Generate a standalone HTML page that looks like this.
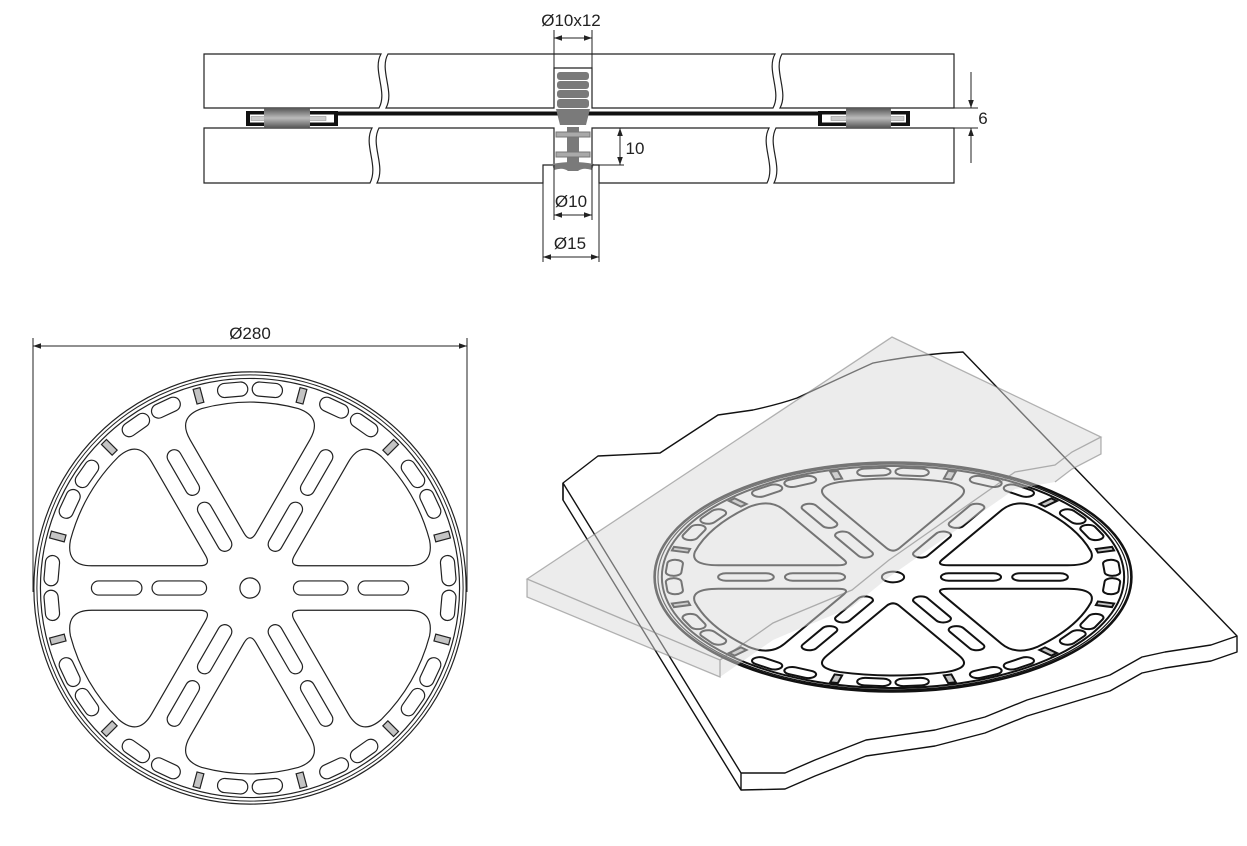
<!DOCTYPE html>
<html><head><meta charset="utf-8">
<style>
html,body{margin:0;padding:0;background:#fff;}
svg{display:block;font-family:"Liberation Sans",sans-serif;}
.wl *{vector-effect:non-scaling-stroke;}
.g{fill:#c4c4c4;}
</style></head>
<body>
<svg id="s" width="1247" height="846" viewBox="0 0 1247 846" xmlns="http://www.w3.org/2000/svg">
<defs>
<marker id="ar" viewBox="0 0 10 10" refX="10" refY="5" markerWidth="8" markerHeight="8" markerUnits="userSpaceOnUse" orient="auto-start-reverse">
<path d="M0,1.5 L10,5 L0,8.5 Z" fill="#222"/></marker>
<linearGradient id="cyl" x1="0" y1="0" x2="0" y2="1">
<stop offset="0" stop-color="#555"/><stop offset="0.5" stop-color="#bbb"/><stop offset="1" stop-color="#555"/></linearGradient>
</defs>

<!-- ===== Cross section ===== -->
<g fill="#fff" stroke="#222" stroke-width="1.2">
<path d="M204,54 L381,54 C372,70 388,92 379,108 L204,108 Z"/>
<path d="M388,54 L775,54 C766,70 782,92 773,108 L592,108 L592,68 L554,68 L554,108 L386,108 C395,92 379,70 388,54 Z"/>
<path d="M782,54 L954,54 L954,108 L780,108 C789,92 773,70 782,54 Z"/>
<path d="M204,128 L372,128 C363,145 379,165 370,183 L204,183 Z"/>
<path d="M379,128 L554,128 L554,165 L543,165 L543,183 L377,183 C386,165 370,145 379,128 Z"/>
<path d="M592,128 L769,128 C760,145 776,165 767,183 L599,183 L599,165 L592,165 Z"/>
<path d="M776,128 L954,128 L954,183 L774,183 C783,165 767,145 776,128 Z"/>
</g>
<!-- mat -->
<rect x="338" y="111.5" width="480" height="4" fill="#111"/>
<rect x="246" y="111" width="92" height="15" fill="#111"/>
<rect x="250" y="114.5" width="84" height="8" fill="#fff"/>
<rect x="818" y="111" width="92" height="15" fill="#111"/>
<rect x="822" y="114.5" width="84" height="8" fill="#fff"/>
<rect x="251" y="116.5" width="75" height="4" fill="#ccc" stroke="#888" stroke-width="0.5"/>
<rect x="831" y="116.5" width="73" height="4" fill="#ccc" stroke="#888" stroke-width="0.5"/>
<rect x="264" y="108" width="46" height="20" fill="url(#cyl)" rx="2"/>
<rect x="846" y="108" width="45" height="20" fill="url(#cyl)" rx="2"/>
<!-- pin -->
<g fill="#7a7a7a">
<rect x="557" y="72" width="32" height="8" rx="3"/>
<rect x="557" y="81" width="32" height="8" rx="3"/>
<rect x="557" y="90" width="32" height="8" rx="3"/>
<rect x="557" y="99" width="32" height="9" rx="3"/>
<path d="M556,109 L590,109 L586,125 L560,125 Z"/>
<rect x="567" y="127" width="12" height="36"/>
<path d="M552,164 Q573,160 594,164 L592,170 Q583,167 578,171 L568,171 Q563,167 554,170 Z"/>
</g>
<rect x="556" y="132" width="34" height="5" fill="#aaa" stroke="#777" stroke-width="1"/>
<rect x="556" y="152" width="34" height="5" fill="#aaa" stroke="#777" stroke-width="1"/>

<!-- dims -->
<g stroke="#222" stroke-width="1" fill="none">
<line x1="554" y1="30" x2="554" y2="68"/><line x1="592" y1="30" x2="592" y2="68"/>
<line x1="554" y1="38" x2="592" y2="38" marker-start="url(#ar)" marker-end="url(#ar)"/>
<line x1="954" y1="108" x2="978" y2="108"/><line x1="954" y1="128" x2="978" y2="128"/>
<line x1="971" y1="72" x2="971" y2="108" marker-end="url(#ar)"/>
<line x1="971" y1="163" x2="971" y2="128" marker-end="url(#ar)"/>
<line x1="592" y1="165" x2="624" y2="165"/>
<line x1="620" y1="128" x2="620" y2="165" marker-start="url(#ar)" marker-end="url(#ar)"/>
<line x1="554" y1="165" x2="554" y2="220"/><line x1="592" y1="165" x2="592" y2="220"/>
<line x1="554" y1="215" x2="592" y2="215" marker-start="url(#ar)" marker-end="url(#ar)"/>
<line x1="543" y1="183" x2="543" y2="262"/><line x1="599" y1="183" x2="599" y2="262"/>
<line x1="543" y1="257" x2="599" y2="257" marker-start="url(#ar)" marker-end="url(#ar)"/>
<line x1="33" y1="338" x2="33" y2="592"/><line x1="467" y1="338" x2="467" y2="592"/>
<line x1="33" y1="346" x2="467" y2="346" marker-start="url(#ar)" marker-end="url(#ar)"/>
</g>
<g font-size="17" fill="#222" text-anchor="middle">
<text x="571" y="26">Ø10x12</text>
<text x="983" y="124">6</text>
<text x="635" y="154">10</text>
<text x="571" y="207">Ø10</text>
<text x="570" y="249">Ø15</text>
<text x="250" y="339">Ø280</text>
</g>

<!-- left wheel -->
<g id="w1" class="wl" transform="translate(250,588) scale(1.01)" fill="none" stroke="#222" stroke-width="1.2"></g>

<!-- ===== Isometric ===== -->
<path d="M563,483 L598,456 L660,453 L718,415 L753,410 Q780,404 797,398 Q840,378 873,363 Q920,354 963,352 L1237,636 L1237,652 L1211,661 L1165,668 L1142,673 L1110,691 L1027,716 L985,733 L935,746 L866,756 L815,776 L785,789 L741,790 L563,500 Z" fill="#fff" stroke="#111" stroke-width="1.4" stroke-linejoin="round"/>
<path d="M563,483 L741,773 L785,773 L815,760 L866,740 L935,730 L985,717 L1027,700 L1110,675 L1142,657 L1165,652 L1211,645 L1237,636 M741,773 L741,790 M563,483 L563,500" fill="none" stroke="#111" stroke-width="1.4" stroke-linejoin="round"/>
<g id="w2" class="wl" transform="matrix(1.114,0,0,0.535,893,577)" fill="none" stroke="#111" stroke-width="2"></g>
<path d="M527,579 L892,337 L1101,437 L1101,454 L1072,469 L1055,482 L1015,489 L889,577 L852,607 L787,634 L773,640 L720,677 L527,597 Z" fill="rgba(218,218,218,0.5)" stroke="none"/>
<path d="M527,579 L892,337 L1101,437 L1072,452 L1055,465 L1015,472 L889,560 L852,590 L787,617 L773,623 L720,660 Z M527,579 L527,597 L720,677 L720,660 M1101,437 L1101,454 L1072,469 L1055,482" fill="none" stroke="rgba(120,120,120,0.55)" stroke-width="1.3"/>
</svg>
<script>
(function(){
const D=Math.PI/180;
const P=(a,r)=>[r*Math.cos(a),r*Math.sin(a)];
const f=v=>v.toFixed(2);
const pp=p=>f(p[0])+","+f(p[1]);
function wheel(thick){
 let s='';
 [[214,thick?2.6:1.2],[211,thick?1.2:1],[207.5,thick?2:1.2]].forEach(([r,w])=>s+=`<circle r="${r}" stroke-width="${w}"/>`);
 for(let k=0;k<36;k++){
  const a=5+10*k;
  const [x,y]=P(a*D,197);
  if(((a-15)%30+30)%30===0){
   s+=`<rect class="g" x="-7.5" y="-3.5" width="15" height="7" transform="translate(${f(x)},${f(y)}) rotate(${a})"/>`;
  } else {
   s+=`<rect x="-15" y="-7" width="30" height="14" rx="7" transform="translate(${f(x)},${f(y)}) rotate(${a+90})"/>`;
  }
 }
 for(let k=0;k<6;k++){
  const a=60*k;
  [[43,97],[107,157]].forEach(([r1,r2])=>{
   const m=(r1+r2)/2,L=r2-r1;const [x,y]=P(a*D,m);
   s+=`<rect x="${-L/2}" y="-7" width="${L}" height="14" rx="7" transform="translate(${f(x)},${f(y)}) rotate(${a})"/>`;
  });
 }
 const R=184,t0=44,tr=12,oc=26;
 for(let k=0;k<6;k++){
  const c=(30+60*k)*D;
  const T=P(c,t0),u1=P(c+30*D,1),u2=P(c-30*D,1);
  const tu=t0*Math.cos(30*D);
  const sB=-tu+Math.sqrt(tu*tu-t0*t0+R*R);
  const pt=(u,s)=>[T[0]+u[0]*s,T[1]+u[1]*s];
  const B=pt(u1,sB),C=pt(u2,sB);
  let dphi=Math.atan2(B[1],B[0])-c;
  while(dphi>Math.PI)dphi-=2*Math.PI;while(dphi<-Math.PI)dphi+=2*Math.PI;
  const del=oc/R;
  const B2=P(c+dphi-del,R),C2=P(c-dphi+del,R);
  s+=`<path d="M${pp(pt(u1,tr))} L${pp(pt(u1,sB-oc))} Q${pp(B)} ${pp(B2)} A${R},${R} 0 0 0 ${pp(C2)} Q${pp(C)} ${pp(pt(u2,sB-oc))} L${pp(pt(u2,tr))} Q${pp(T)} ${pp(pt(u1,tr))} Z"/>`;
 }
 s+='<circle r="10"/>';
 return s;
}
document.getElementById('w1').innerHTML=wheel(false);
document.getElementById('w2').innerHTML=wheel(true);
})();
</script>
</body></html>
